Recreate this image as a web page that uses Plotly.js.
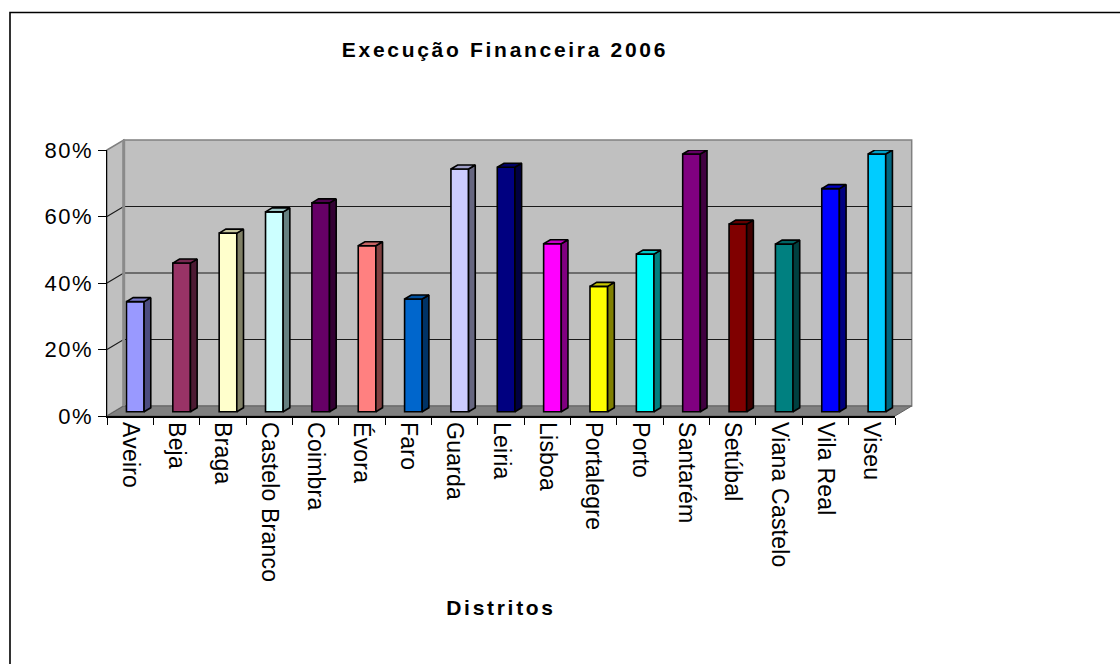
<!DOCTYPE html>
<html>
<head>
<meta charset="utf-8">
<script src="https://cdn.plot.ly/plotly-3.0.1.min.js"></script>
<style>
  html, body { margin: 0; padding: 0; background: #fff; }
  #chart { width: 1120px; height: 664px; }
</style>
</head>
<body>
<div id="chart"></div>
<script>
// Financial execution per district, 2006
const districts = ['Aveiro', 'Beja', 'Braga', 'Castelo Branco', 'Coimbra', 'Évora', 'Faro', 'Guarda',
  'Leiria', 'Lisboa', 'Portalegre', 'Porto', 'Santarém', 'Setúbal', 'Viana Castelo', 'Vila Real', 'Viseu'];
const execution = [0.331, 0.447, 0.537, 0.601, 0.628, 0.499, 0.339, 0.730,
  0.735, 0.505, 0.377, 0.474, 0.775, 0.564, 0.504, 0.671, 0.775];
const barColors = ['#9999FF', '#993366', '#FFFFCC', '#CCFFFF', '#660066', '#FF8080', '#0066CC', '#CCCCFF',
  '#000080', '#FF00FF', '#FFFF00', '#00FFFF', '#800080', '#800000', '#008080', '#0000FF', '#00CCFF'];
const yTicks = [0, 0.2, 0.4, 0.6, 0.8];

// ---- frame geometry (pixels) ----
const FIG = { w: 1120, h: 664 };
const M = { l: 107, r: 225, t: 150, b: 248 };
const W = FIG.w - M.l - M.r;
const H = FIG.h - M.t - M.b;
const XR = [-0.5, districts.length - 0.5];
const YR = [0, 0.8];
const pxPerX = W / (XR[1] - XR[0]);
const pxPerY = H / (YR[1] - YR[0]);

// depth of the box walls and of each column, in pixels
const WALL = { dx: 16.7, dy: 10 };
const COL = { offset: -0.08, width: 0.38, dx: 6.7, dy: 4, lift: 4.3 };

const xToPx = x => M.l + (x - XR[0]) * pxPerX;
const yToPx = y => M.t + H - (y - YR[0]) * pxPerY;
const paperX = p => (p - M.l) / W;
const paperY = p => (M.t + H - p) / H;
const pathOf = pts => 'M' + pts.map(p => paperX(p[0]).toFixed(5) + ',' + paperY(p[1]).toFixed(5)).join(' L') + ' Z';
const lineOf = pts => 'M' + pts.map(p => paperX(p[0]).toFixed(5) + ',' + paperY(p[1]).toFixed(5)).join(' L');

function shade(hex, f) {
  const n = parseInt(hex.slice(1), 16);
  const c = [(n >> 16) & 255, (n >> 8) & 255, n & 255].map(v => Math.round(v * f));
  return 'rgb(' + c.join(',') + ')';
}

// ---- walls and floor of the 3D box ----
const L = xToPx(XR[0]), R = xToPx(XR[1]);
const T = yToPx(YR[1]), B = yToPx(YR[0]);
const shapes = [];
shapes.push({ type: 'path', xref: 'paper', yref: 'paper', layer: 'below',
  path: pathOf([[L + WALL.dx, T - WALL.dy], [R + WALL.dx, T - WALL.dy], [R + WALL.dx, B - WALL.dy], [L + WALL.dx, B - WALL.dy]]),
  fillcolor: '#C0C0C0', line: { color: '#808080', width: 1.5 } });
shapes.push({ type: 'path', xref: 'paper', yref: 'paper', layer: 'below',
  path: pathOf([[L, T], [L + WALL.dx, T - WALL.dy], [L + WALL.dx, B - WALL.dy], [L, B]]),
  fillcolor: '#C0C0C0', line: { color: '#808080', width: 1.5 } });
shapes.push({ type: 'path', xref: 'paper', yref: 'paper', layer: 'below',
  path: pathOf([[L, B], [L + WALL.dx, B - WALL.dy], [R + WALL.dx, B - WALL.dy], [R, B]]),
  fillcolor: '#808080', line: { color: '#606060', width: 1 } });
// gridlines on the back wall and on the side wall
yTicks.filter(v => v > YR[0] && v < YR[1]).forEach(v => {
  const y = yToPx(v);
  shapes.push({ type: 'path', xref: 'paper', yref: 'paper', layer: 'below',
    path: lineOf([[L, y], [L + WALL.dx, y - WALL.dy], [R + WALL.dx, y - WALL.dy]]),
    line: { color: '#1a1a1a', width: 1.2 } });
});
// vertical edge between side wall and back wall
shapes.push({ type: 'path', xref: 'paper', yref: 'paper', layer: 'below',
  path: lineOf([[L + WALL.dx, T - WALL.dy], [L + WALL.dx, B - WALL.dy]]),
  line: { color: '#8a8a8a', width: 3 } });
// outer chart border (top and left)
shapes.push({ type: 'path', xref: 'paper', yref: 'paper', layer: 'above',
  path: lineOf([[10, FIG.h + 5], [10, 12.5], [FIG.w + 5, 12.5]]),
  line: { color: '#000', width: 1.6 } });

// ---- columns: front faces as bars, side and top faces as filled outlines ----
const lift = COL.lift / pxPerY;
const ddx = COL.dx / pxPerX, ddy = COL.dy / pxPerY;
const traces = [{
  type: 'bar', x: districts, y: execution, base: lift,
  offset: COL.offset, width: COL.width,
  marker: { color: barColors, line: { color: '#000', width: 1.6 } },
  hovertemplate: '%{x}: %{y:.0%}<extra></extra>', showlegend: false
}];
execution.forEach((v, i) => {
  const xl = i + COL.offset, xr = xl + COL.width;
  const top = lift + v;
  traces.push({
    type: 'scatter', xaxis: 'x2', yaxis: 'y', mode: 'lines', fill: 'toself',
    x: [xr, xr + ddx, xr + ddx, xr, xr], y: [lift, lift + ddy, top + ddy, top, lift],
    fillcolor: shade(barColors[i], 0.5), line: { color: '#000', width: 1.6 },
    hoverinfo: 'skip', showlegend: false
  });
  traces.push({
    type: 'scatter', xaxis: 'x2', yaxis: 'y', mode: 'lines', fill: 'toself',
    x: [xl, xr, xr + ddx, xl + ddx, xl], y: [top, top, top + ddy, top + ddy, top],
    fillcolor: shade(barColors[i], 0.78), line: { color: '#000', width: 1.6 },
    hoverinfo: 'skip', showlegend: false
  });
});

const FONT = 'Liberation Sans, Arial, sans-serif';
const layout = {
  width: FIG.w, height: FIG.h,
  margin: M,
  paper_bgcolor: '#fff', plot_bgcolor: 'rgba(0,0,0,0)',
  showlegend: false,
  title: { text: 'Execução Financeira 2006', xref: 'container', yref: 'container',
    x: 505 / FIG.w, xanchor: 'center', y: 1 - 50 / FIG.h, yanchor: 'middle',
    font: { family: FONT, size: 21, weight: 'bold', color: '#000' } },
  xaxis: {
    type: 'category', range: XR, tickson: 'boundaries', ticks: 'outside', ticklen: 7,
    tickcolor: '#000', tickwidth: 1, showline: true, linecolor: '#000', linewidth: 1.5,
    tickangle: 90, tickfont: { family: FONT, size: 23, color: '#000' },
    showgrid: false, zeroline: false, automargin: false,
    title: { text: 'Distritos', standoff: 22, font: { family: FONT, size: 21, weight: 'bold', color: '#000' } }
  },
  xaxis2: { type: 'linear', overlaying: 'x', range: XR, visible: false },
  yaxis: {
    range: YR, tickvals: yTicks, tickformat: '.0%', ticks: 'outside', ticklen: 8,
    tickcolor: '#000', tickwidth: 1, showline: true, linecolor: '#000', linewidth: 1.5,
    tickfont: { family: FONT, size: 22, color: '#000' },
    showgrid: false, zeroline: false, automargin: false
  },
  shapes: shapes
};

Plotly.newPlot('chart', traces, layout, { displayModeBar: false, staticPlot: true }).then(gd => {
  // wider tracking on the text, as in the printed chart style
  gd.querySelectorAll('.gtitle, .g-xtitle text').forEach(t => t.style.letterSpacing = '2.7px');
  gd.querySelectorAll('.ytick text').forEach(t => t.style.letterSpacing = '1.5px');
  gd.querySelectorAll('.xtick text').forEach(t => t.style.letterSpacing = '0.2px');
});
</script>
</body>
</html>
